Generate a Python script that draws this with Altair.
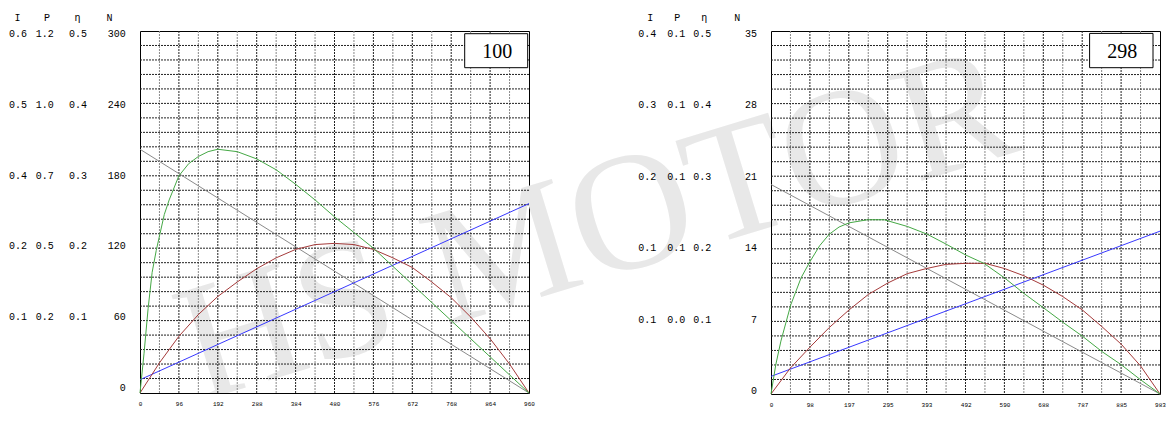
import altair as alt
import pandas as pd

# ---------------- left panel (model 100) ----------------
L_MODEL = "100"
L_TMAX = 960
L_NMAX = 300
L_T_N = [0, 960]
L_N = [202, 0]
L_T_I = [0, 960]
L_I = [11, 157]
L_T_P = [0, 48, 96, 144, 192, 240, 288, 336, 384, 432, 480, 528, 576, 624, 672, 720, 768, 816, 864, 912, 960]
L_P = [0, 25, 47, 65, 80, 92, 103, 112, 119, 123, 124, 123, 119, 112, 104, 92, 79, 63, 45, 24, 0]
L_T_E = [0, 10, 20, 30, 40, 48, 60, 72, 96, 120, 144, 168, 192, 240, 288, 336, 384, 432, 480, 528, 576, 624, 672, 720, 768, 816, 864, 912, 960]
L_E = [0, 33, 70, 100, 118, 130, 148, 160, 180, 190, 196, 200, 202, 200, 194, 185, 173, 160, 146, 133, 120, 105, 90, 75, 60, 45, 30, 15, 0]
L_XLABELS = [0, 96, 192, 288, 384, 480, 576, 672, 768, 864, 960]
L_N_LABELS = [300, 240, 180, 120, 60, 0]
L_I_LABELS = ["0.6", "0.5", "0.4", "0.2", "0.1"]
L_P_LABELS = ["1.2", "1.0", "0.7", "0.5", "0.2"]
L_E_LABELS = ["0.5", "0.4", "0.3", "0.2", "0.1"]

# ---------------- right panel (model 298) ----------------
R_MODEL = "298"
R_TMAX = 983
R_NMAX = 35
R_T_N = [0, 983]
R_N = [20.2, 0]
R_T_I = [0, 983]
R_I = [1.7, 15.7]
R_T_P = [0, 49, 98, 147, 197, 246, 295, 344, 393, 442, 492, 541, 590, 639, 688, 737, 787, 836, 885, 934, 983]
R_P = [0, 2.5, 4.5, 6.4, 8.1, 9.6, 10.7, 11.6, 12.1, 12.5, 12.6, 12.6, 12.1, 11.4, 10.5, 9.4, 8.1, 6.5, 4.8, 2.7, 0]
R_T_E = [0, 12, 25, 50, 76, 99, 123, 147, 172, 197, 244, 286, 345, 395, 445, 492, 538, 590, 639, 689, 738, 786, 836, 884, 933, 983]
R_E = [0, 2.8, 5.1, 8.6, 11.2, 12.8, 14.3, 15.4, 16.1, 16.5, 16.8, 16.8, 16.15, 15.4, 14.4, 13.4, 12.6, 11.2, 9.7, 8.3, 6.9, 5.6, 4.1, 2.85, 1.4, 0]
R_XLABELS = [0, 98, 197, 295, 393, 492, 590, 688, 787, 885, 983]
R_N_LABELS = [35, 28, 21, 14, 7, 0]
R_I_LABELS = ["0.4", "0.3", "0.2", "0.1", "0.1"]
R_P_LABELS = ["0.1", "0.1", "0.1", "0.1", "0.0"]
R_E_LABELS = ["0.5", "0.4", "0.3", "0.2", "0.1"]

HEADERS = ["I", "P", "η", "N"]
SERIES = ["N", "I", "P", "η"]
COLORS = ["#8a8a8a", "#3838ff", "#a53a3a", "#45a845"]
WATERMARK = ["HS", "MOTOR"]

LABEL_FONT = "Liberation Mono"


def panel(model, tmax, nmax, w, h, tn, n, ti, i, tp, p, te, e,
          xlabels, nlabels, ilabels, plabels, elabels,
          col_x, head_x, label_range, box, watermark=None):
    xs = alt.Scale(domain=[0, tmax], nice=False, zero=False)
    ys = alt.Scale(domain=[0, nmax], nice=False, zero=False)
    xaxis = alt.Axis(values=xlabels, grid=False, ticks=False, domain=False,
                     labelFontSize=6, labelFont=LABEL_FONT, labelColor="black",
                     labelPadding=7, labelFlush=False, labelOverlap=False, title=None)

    rows = []
    for s, tt, vv in zip(SERIES, [tn, ti, tp, te], [n, i, p, e]):
        for a, b in zip(tt, vv):
            rows.append({"T": a, "v": b, "s": s})
    df = pd.DataFrame(rows)

    layers = []
    if watermark is not None:
        for text, wx, wy, clip in watermark:
            layers.append(
                alt.Chart(pd.DataFrame({"w": [text]})).mark_text(
                    font="Liberation Serif", fontSize=168, color="#e8e8e8",
                    angle=343, align="center", baseline="alphabetic", clip=clip
                ).encode(x=alt.value(wx), y=alt.value(wy), text="w:N")
            )

    # grid
    nx = 20
    gx = [tmax * k / nx for k in range(1, nx)]
    gdf = pd.DataFrame({"gx": gx, "major": [(k % 2 == 0) for k in range(1, nx)]})
    layers.append(
        alt.Chart(gdf).transform_filter("datum.major").mark_rule(
            color="#222", strokeWidth=1, strokeDash=[2, 1]
        ).encode(x=alt.X("gx:Q", scale=xs, axis=xaxis))
    )
    layers.append(
        alt.Chart(gdf).transform_filter("!datum.major").mark_rule(
            color="#8a8a8a", strokeWidth=1, strokeDash=[2, 1]
        ).encode(x=alt.X("gx:Q", scale=xs, axis=xaxis))
    )
    ny = 25
    gy = [nmax * k / ny for k in range(1, ny)]
    layers.append(
        alt.Chart(pd.DataFrame({"gy": gy})).mark_rule(
            color="#222", strokeWidth=1, strokeDash=[2, 1]
        ).encode(y=alt.Y("gy:Q", scale=ys, axis=None))
    )

    # curves
    layers.append(
        alt.Chart(df).mark_line(strokeWidth=1).encode(
            x=alt.X("T:Q", scale=xs, axis=xaxis),
            y=alt.Y("v:Q", scale=ys, axis=None),
            color=alt.Color("s:N", scale=alt.Scale(domain=SERIES, range=COLORS), legend=None),
            detail="s:N",
        )
    )

    # model box
    bdf = pd.DataFrame({"m": [model]})
    layers.append(
        alt.Chart(bdf).mark_rect(fill="white", stroke="black", strokeWidth=1).encode(
            x=alt.value(box[0]), x2=alt.value(box[1]), y=alt.value(box[2]), y2=alt.value(box[3])
        )
    )
    layers.append(
        alt.Chart(bdf).mark_text(font="Liberation Serif", fontSize=20, color="black",
                                 align="center", baseline="middle").encode(
            x=alt.value((box[0] + box[1]) / 2 + 1), y=alt.value((box[2] + box[3]) / 2 + 1), text="m:N"
        )
    )

    # left label columns (I, P, eta, N)
    ls = alt.Scale(domain=[0, nmax], range=label_range, nice=False, zero=False)
    ldf = pd.DataFrame({"N": nlabels[:5], "I": ilabels, "P": plabels, "E": elabels})
    ndf = pd.DataFrame({"N": nlabels, "t": [str(v) for v in nlabels]})
    for field, xpos in zip(["I", "P", "E"], col_x[:3]):
        layers.append(
            alt.Chart(ldf).mark_text(font=LABEL_FONT, fontSize=10, color="black",
                                     align="left", baseline="middle").encode(
                x=alt.value(xpos), y=alt.Y("N:Q", scale=ls, axis=None), text=f"{field}:N"
            )
        )
    layers.append(
        alt.Chart(ndf).mark_text(font=LABEL_FONT, fontSize=10, color="black",
                                 align="right", baseline="middle").encode(
            x=alt.value(col_x[3]), y=alt.Y("N:Q", scale=ls, axis=None), text="t:N"
        )
    )
    hdf = pd.DataFrame({"h": HEADERS})
    for k, hx in enumerate(head_x):
        layers.append(
            alt.Chart(hdf).transform_filter(f"datum.h == '{HEADERS[k]}'").mark_text(
                font=LABEL_FONT, fontSize=10, color="black", align="center", baseline="middle"
            ).encode(x=alt.value(hx), y=alt.value(-12.6), text="h:N")
        )

    return alt.layer(*layers).resolve_scale(y="independent").properties(width=w, height=h)


left = panel(L_MODEL, L_TMAX, L_NMAX, 389, 362, L_T_N, L_N, L_T_I, L_I, L_T_P, L_P, L_T_E, L_E,
             L_XLABELS, L_N_LABELS, L_I_LABELS, L_P_LABELS, L_E_LABELS,
             col_x=[-131, -104.3, -71, -14.3], head_x=[-122.5, -93, -62.5, -30.5],
             label_range=[357, 3], box=[324.7, 387.7, 2.7, 36.7],
             watermark=[(WATERMARK[0], 161.7, 339.3, True), (WATERMARK[1], 594.5, 207, False)])
right = panel(R_MODEL, R_TMAX, R_NMAX, 389, 363, R_T_N, R_N, R_T_I, R_I, R_T_P, R_P, R_T_E, R_E,
              R_XLABELS, R_N_LABELS, R_I_LABELS, R_P_LABELS, R_E_LABELS,
              col_x=[-132.7, -103.7, -77.7, -14], head_x=[-120.7, -93.7, -66.7, -33.7],
              label_range=[360, 3], box=[318.6, 382, 2.4, 36.7])

chart = alt.hconcat(left, right, spacing=242, bounds="flush").properties(
    padding={"left": 0, "top": 4, "right": 0, "bottom": 0},
    background="white",
).configure_view(stroke="black", strokeWidth=1)

chart.save("out.html", embed_options={"renderer": "svg", "actions": False})
